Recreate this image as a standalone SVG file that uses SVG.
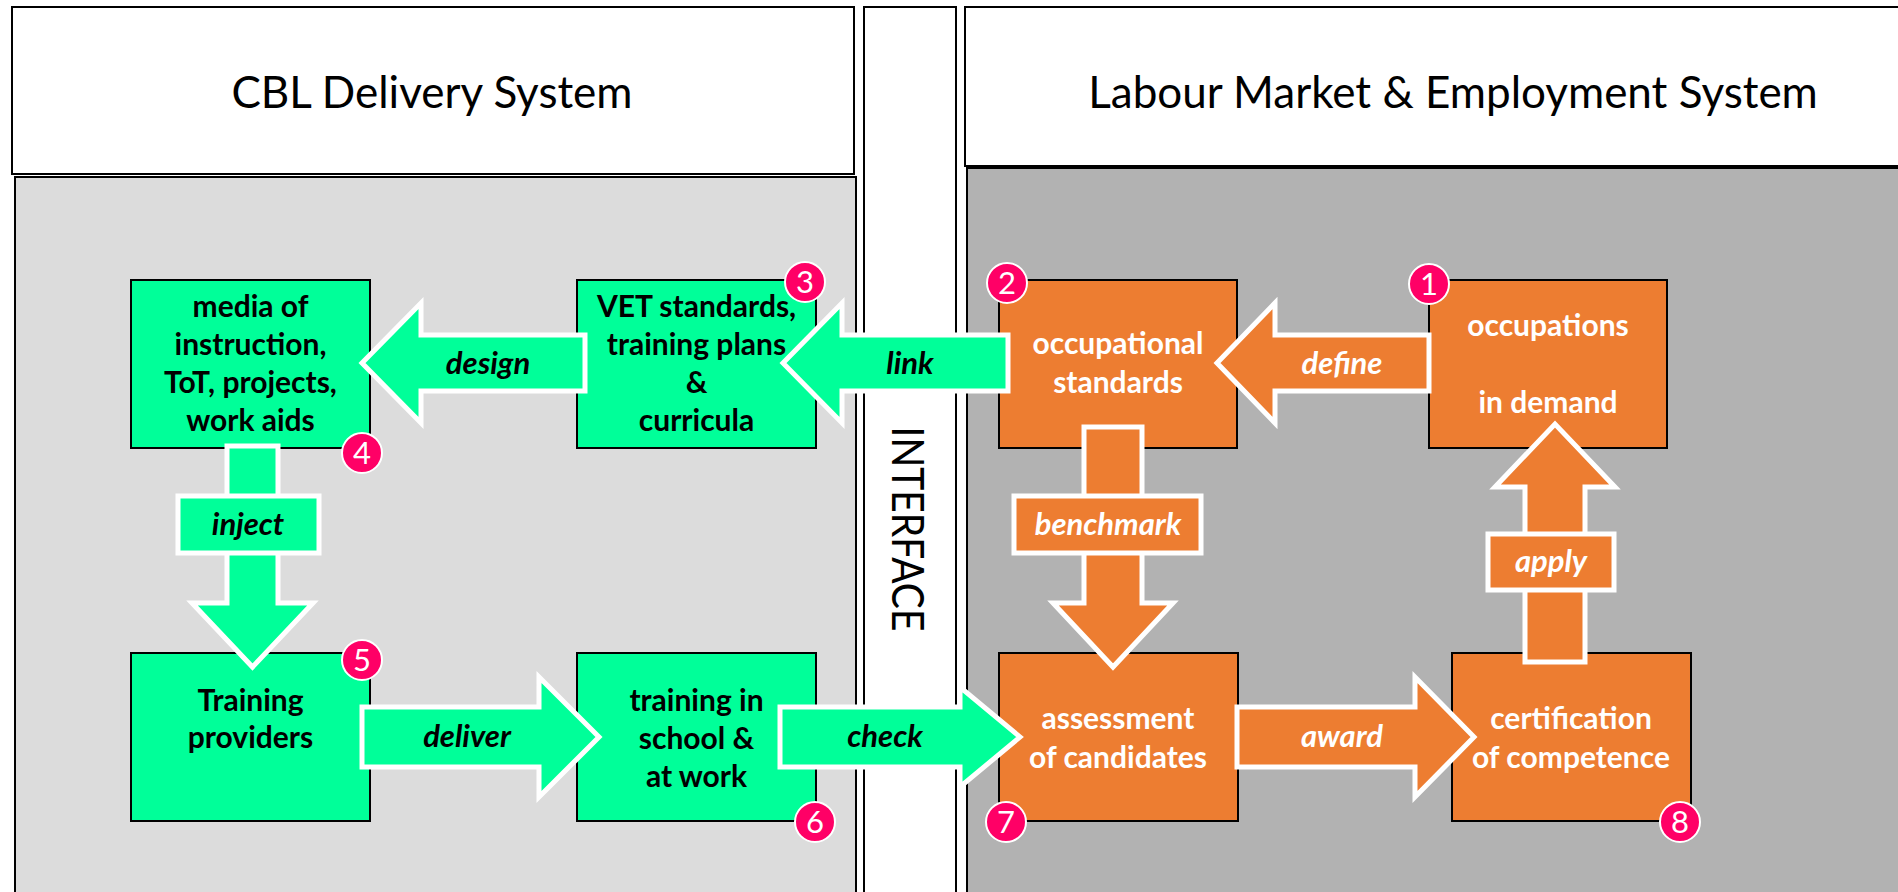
<svg xmlns="http://www.w3.org/2000/svg" width="1898" height="892" viewBox="0 0 1898 892">
<style>
.hdr{fill:#fff;stroke:#000;stroke-width:2}
.htxt{font-family:Lato,"Open Sans","Liberation Sans",sans-serif;font-size:44px;fill:#000;text-anchor:middle}
.gbox{fill:#00FF99;stroke:#000;stroke-width:2}
.obox{fill:#ED7D31;stroke:#000;stroke-width:2}
.gt{font-family:Lato,"Open Sans","Liberation Sans",sans-serif;font-size:30px;font-weight:bold;fill:#000;text-anchor:middle}
.ot{font-family:Lato,"Open Sans","Liberation Sans",sans-serif;font-size:30px;font-weight:bold;fill:#fff;text-anchor:middle}
.ga{fill:#00FF99;stroke:#fff;stroke-width:5}
.oa{fill:#ED7D31;stroke:#fff;stroke-width:5}
.gl{font-family:Lato,"Open Sans","Liberation Sans",sans-serif;font-size:31px;font-weight:bold;font-style:italic;fill:#000;text-anchor:middle}
.ol{font-family:Lato,"Open Sans","Liberation Sans",sans-serif;font-size:31px;font-weight:bold;font-style:italic;fill:#fff;text-anchor:middle}
.bdg{fill:#FF0066;stroke:#fff;stroke-width:2}
.bt{font-family:Lato,"Open Sans","Liberation Sans",sans-serif;font-size:31px;fill:#fff;text-anchor:middle}
</style>
<rect width="1898" height="892" fill="#fff"/>
<g id="panels">
<rect class="hdr" x="12" y="7" width="842" height="167"/>
<rect x="15" y="177" width="841" height="730" fill="#DCDCDC" stroke="#000" stroke-width="2"/>
<rect class="hdr" x="864" y="7" width="92" height="900"/>
<rect class="hdr" x="965" y="7" width="945" height="159"/>
<rect x="967" y="168" width="945" height="740" fill="#B2B2B2" stroke="#000" stroke-width="2"/>
<text class="htxt" x="432" y="108">CBL Delivery System</text>
<text class="htxt" x="1453" y="108">Labour Market &amp; Employment System</text>
<text x="909" y="529" transform="rotate(90 909 529)" font-family="Lato,'Open Sans','Liberation Sans',sans-serif" font-size="44" text-anchor="middle" dominant-baseline="central" textLength="205" lengthAdjust="spacingAndGlyphs">INTERFACE</text>
</g>
<g id="n4">
<rect class="gbox" x="131" y="280" width="239" height="168"/>
<text class="gt" x="250.5" y="317">media of</text>
<text class="gt" x="250.5" y="355">instruction,</text>
<text class="gt" x="250.5" y="393">ToT, projects,</text>
<text class="gt" x="250.5" y="431">work aids</text>
</g>
<g id="n3">
<rect class="gbox" x="577" y="280" width="239" height="168"/>
<text class="gt" x="696.5" y="317">VET standards,</text>
<text class="gt" x="696.5" y="355">training plans</text>
<text class="gt" x="696.5" y="393">&amp;</text>
<text class="gt" x="696.5" y="431">curricula</text>
</g>
<g id="n5">
<rect class="gbox" x="131" y="653" width="239" height="168"/>
<text class="gt" x="250.5" y="711">Training</text>
<text class="gt" x="250.5" y="748">providers</text>
</g>
<g id="n6">
<rect class="gbox" x="577" y="653" width="239" height="168"/>
<text class="gt" x="696.5" y="711">training in</text>
<text class="gt" x="696.5" y="749">school &amp;</text>
<text class="gt" x="696.5" y="787">at work</text>
</g>
<g id="n2">
<rect class="obox" x="999" y="280" width="238" height="168"/>
<text class="ot" x="1118" y="354">occupational</text>
<text class="ot" x="1118" y="393">standards</text>
</g>
<g id="n1">
<rect class="obox" x="1429" y="280" width="238" height="168"/>
<text class="ot" x="1548" y="336">occupations</text>
<text class="ot" x="1548" y="413">in demand</text>
</g>
<g id="n7">
<rect class="obox" x="999" y="653" width="239" height="168"/>
<text class="ot" x="1118" y="729">assessment</text>
<text class="ot" x="1118" y="768">of candidates</text>
</g>
<g id="n8">
<rect class="obox" x="1452" y="653" width="239" height="168"/>
<text class="ot" x="1571" y="729">certification</text>
<text class="ot" x="1571" y="768">of competence</text>
</g>
<g id="connectors">
<polygon class="ga" points="585,335 421,335 421,303 362,363 421,423 421,391 585,391"/>
<text class="gl" x="488" y="374">design</text>
<polygon class="ga" points="1008,335 842,335 842,303 783,363 842,423 842,391 1008,391"/>
<text class="gl" x="910" y="374">link</text>
<polygon class="oa" points="1429,335 1275,335 1275,303 1217,363 1275,423 1275,391 1429,391"/>
<text class="ol" x="1342" y="374">define</text>
<polygon class="ga" points="227,446 278,446 278,603 313,603 252.5,667 192,603 227,603"/>
<rect class="ga" x="178" y="496" width="141" height="57"/>
<text class="gl" x="248" y="535">inject</text>
<polygon class="oa" points="1084,427 1142,427 1142,603 1173,603 1113,667 1053,603 1084,603"/>
<rect class="oa" x="1014" y="496" width="187" height="57"/>
<text class="ol" x="1108" y="535">benchmark</text>
<polygon class="oa" points="1525,662 1525,487 1495,487 1555,424 1615,487 1585,487 1585,662"/>
<rect class="oa" x="1488" y="534" width="126" height="56"/>
<text class="ol" x="1551" y="572">apply</text>
<polygon class="ga" points="362,707 539,707 539,677 599,737 539,797 539,767 362,767"/>
<text class="gl" x="467" y="747">deliver</text>
<polygon class="ga" points="780,707 960,707 960,687 1020,737 960,787 960,767 780,767"/>
<text class="gl" x="885" y="747">check</text>
<polygon class="oa" points="1237,707 1415,707 1415,677 1474,737 1415,797 1415,767 1237,767"/>
<text class="ol" x="1342" y="747">award</text>
</g>
<g id="badges">
<circle class="bdg" cx="1429" cy="284" r="20"/><text class="bt" x="1429" y="295">1</text>
<circle class="bdg" cx="1007" cy="283" r="20"/><text class="bt" x="1007" y="294">2</text>
<circle class="bdg" cx="805" cy="282" r="20"/><text class="bt" x="805" y="293">3</text>
<circle class="bdg" cx="362" cy="453" r="20"/><text class="bt" x="362" y="464">4</text>
<circle class="bdg" cx="362" cy="660" r="20"/><text class="bt" x="362" y="671">5</text>
<circle class="bdg" cx="815" cy="822" r="20"/><text class="bt" x="815" y="833">6</text>
<circle class="bdg" cx="1006" cy="822" r="20"/><text class="bt" x="1006" y="833">7</text>
<circle class="bdg" cx="1680" cy="822" r="20"/><text class="bt" x="1680" y="833">8</text>
</g>
</svg>
